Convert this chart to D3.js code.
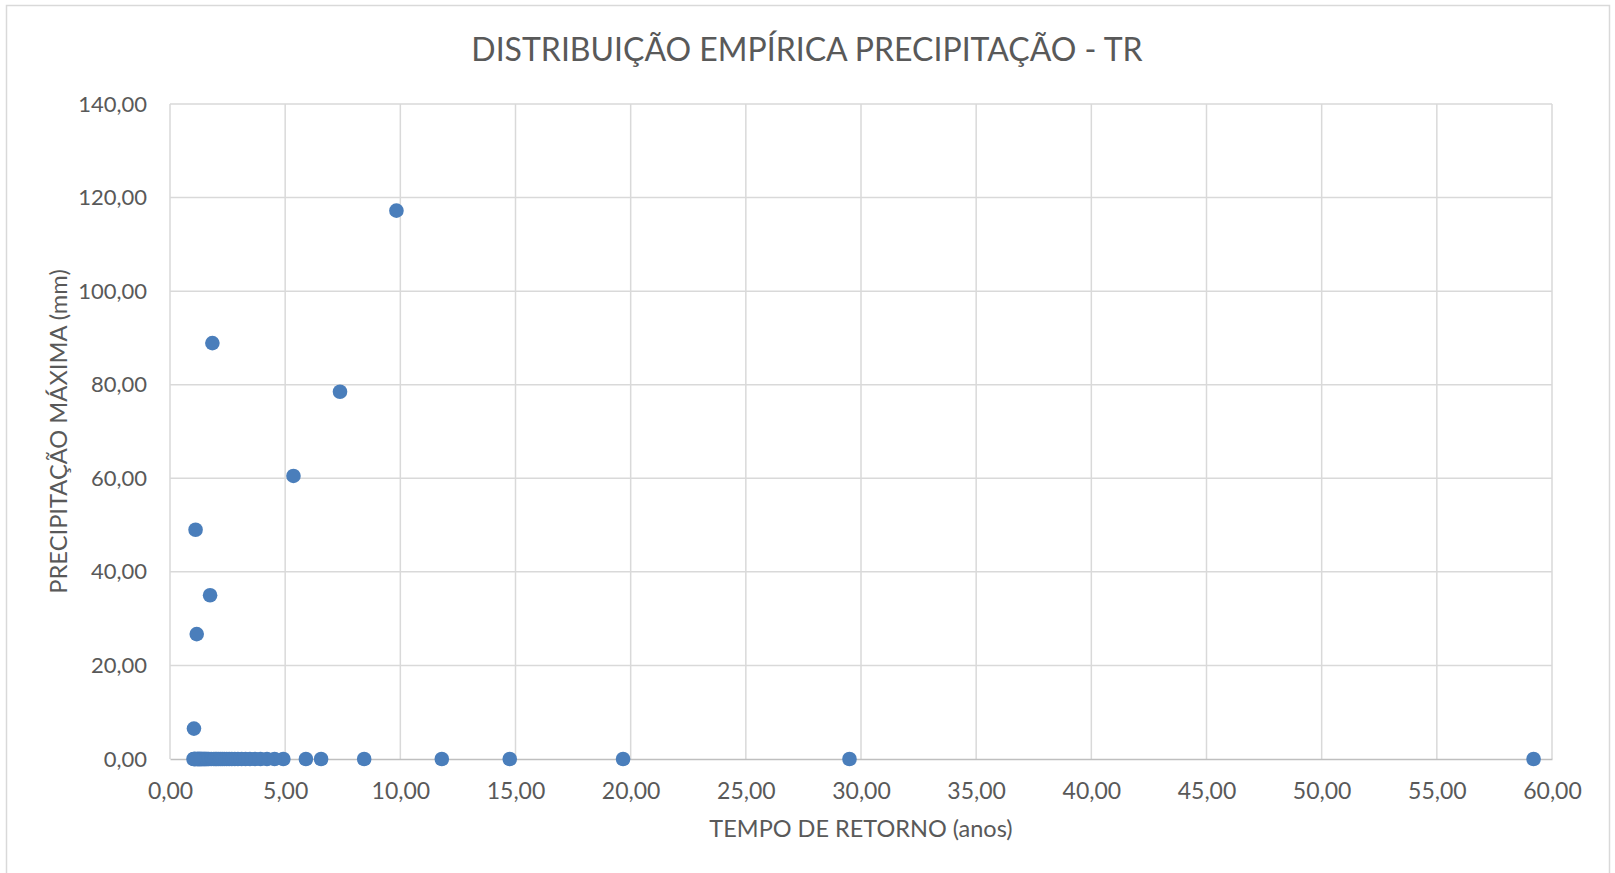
<!DOCTYPE html>
<html>
<head>
<meta charset="utf-8">
<script src="https://cdn.jsdelivr.net/npm/d3@7/dist/d3.min.js"></script>
<style>
  body { margin: 0; background: #fff; }
  text { font-family: Lato, "Open Sans", sans-serif; fill: #595959; }
</style>
</head>
<body>
<svg id="chart"></svg>
<script>
var title = "DISTRIBUIÇÃO EMPÍRICA PRECIPITAÇÃO - TR";
var xTitle = "TEMPO DE RETORNO (anos)";
var yTitle = "PRECIPITAÇÃO MÁXIMA (mm)";

// tempo de retorno (anos) and precipitacao maxima (mm)
var tr = [59.2, 29.5, 19.67, 14.75, 11.8, 9.83, 8.43, 7.38, 6.56, 5.9, 5.36,
    4.92, 4.54, 4.21, 3.93, 3.69, 3.47, 3.28, 3.11, 2.95, 2.81, 2.68, 2.57,
    2.46, 2.36, 2.27, 2.19, 2.11, 2.03, 1.97, 1.90, 1.84, 1.79, 1.74, 1.69,
    1.64, 1.59, 1.55, 1.51, 1.48, 1.44, 1.40, 1.37, 1.34, 1.31, 1.28, 1.26,
    1.23, 1.20, 1.18, 1.16, 1.13, 1.11, 1.09, 1.07, 1.05, 1.04, 1.02];
var prec = [0, 0, 0, 0, 0, 117.2, 0, 78.5, 0, 0, 60.5,
    0, 0, 0, 0, 0, 0, 0, 0, 0, 0, 0, 0,
    0, 0, 0, 0, 0, 0, 0, 0, 88.9, 0, 35.0, 0,
    0, 0, 0, 0, 0, 0, 0, 0, 0, 0, 0, 0,
    0, 0, 0, 26.7, 0, 49.0, 0, 0, 0, 6.5, 0];

var xTicks = [0, 5, 10, 15, 20, 25, 30, 35, 40, 45, 50, 55, 60];
var yTicks = [0, 20, 40, 60, 80, 100, 120, 140];

var width = 1615, height = 873;
var plotLeft = 170, plotRight = 1552, plotTop = 104, plotBottom = 759;

var fmt = function(v) { return d3.format(".2f")(v).replace(".", ","); };

var svg = d3.select("#chart").attr("width", width).attr("height", height);

// chart frame
svg.append("rect")
    .attr("x", 6.5).attr("y", 5.5)
    .attr("width", 1603).attr("height", 900)
    .attr("fill", "none")
    .attr("stroke", "#d9d9d9")
    .attr("stroke-width", 1.5);

var x = d3.scaleLinear().domain([0, 60]).range([plotLeft, plotRight]);
var y = d3.scaleLinear().domain([0, 140]).range([plotBottom, plotTop]);

// gridlines
svg.append("g")
    .selectAll("line")
    .data(xTicks)
    .enter()
    .append("line")
    .attr("x1", function(d) { return x(d); })
    .attr("x2", function(d) { return x(d); })
    .attr("y1", plotTop).attr("y2", plotBottom)
    .attr("stroke", "#d9d9d9")
    .attr("stroke-width", 1.5);

svg.append("g")
    .selectAll("line")
    .data(yTicks.slice(1))
    .enter()
    .append("line")
    .attr("x1", plotLeft).attr("x2", plotRight)
    .attr("y1", function(d) { return y(d); })
    .attr("y2", function(d) { return y(d); })
    .attr("stroke", "#d9d9d9")
    .attr("stroke-width", 1.5);

// x axis
var xAxis = svg.append("g")
    .attr("transform", "translate(0," + plotBottom + ")")
    .call(d3.axisBottom(x).tickValues(xTicks).tickFormat(fmt).tickSize(0).tickPadding(24));
xAxis.select(".domain").attr("stroke", "#bfbfbf").attr("stroke-width", 1.5);
xAxis.selectAll("text").style("font-size", "23px").attr("fill", "#595959");

// y axis
var yAxis = svg.append("g")
    .attr("transform", "translate(" + plotLeft + ",0)")
    .call(d3.axisLeft(y).tickValues(yTicks).tickFormat(fmt).tickSize(0).tickPadding(23));
yAxis.select(".domain").remove();
yAxis.selectAll("text").style("font-size", "22px").attr("fill", "#595959");

// points
svg.append("g")
    .selectAll("circle")
    .data(tr)
    .enter()
    .append("circle")
    .attr("cx", function(d) { return x(d); })
    .attr("cy", function(d, i) { return y(prec[i]); })
    .attr("r", 7.3)
    .attr("fill", "#4a7ebb");

// titles
svg.append("text")
    .attr("x", 807).attr("y", 61)
    .attr("text-anchor", "middle")
    .style("font-size", "32px")
    .text(title);

svg.append("text")
    .attr("x", (plotLeft + plotRight) / 2).attr("y", 837)
    .attr("text-anchor", "middle")
    .style("font-size", "23.5px")
    .text(xTitle);

svg.append("text")
    .attr("transform", "translate(67," + ((plotTop + plotBottom) / 2) + ") rotate(-90)")
    .attr("text-anchor", "middle")
    .style("font-size", "23.7px")
    .text(yTitle);
</script>
</body>
</html>
